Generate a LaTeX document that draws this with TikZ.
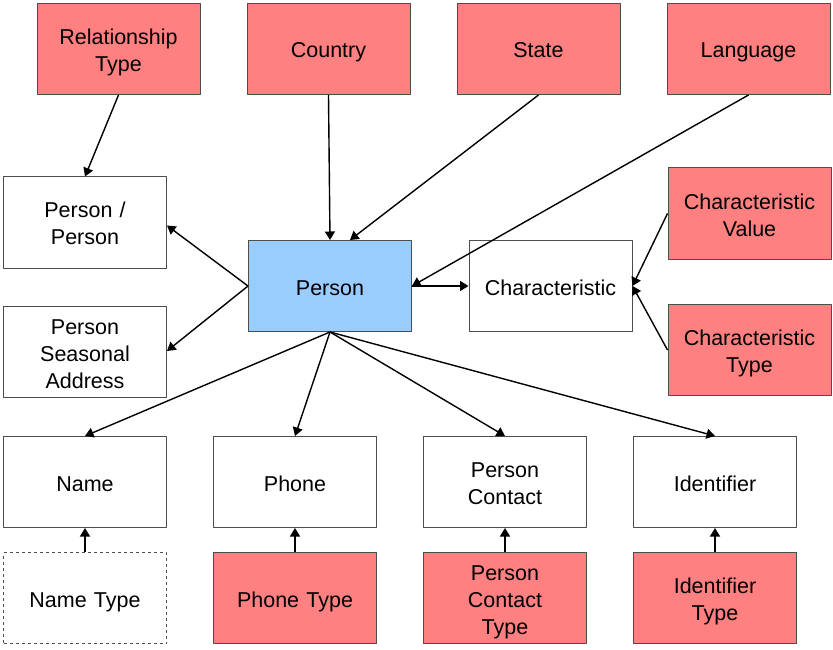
\documentclass[tikz,border=0pt]{standalone}
\usepackage{fontspec}
\setmainfont{Liberation Sans}
\usetikzlibrary{arrows.meta}
\definecolor{lookup}{HTML}{FF8080}
\definecolor{core}{HTML}{99CCFF}
\definecolor{edge}{HTML}{4D4D4D}
\tikzset{
  entity/.style={draw=edge, line width=1pt, minimum width=163pt, minimum height=91pt,
    inner sep=0pt, text width=163pt, align=center, font=\fontsize{21.5}{27}\selectfont,
    execute at begin node={\rule{0pt}{22.5pt}},
    execute at end node={\rule[-4.5pt]{0pt}{4.5pt}}},
  lookupbox/.style={entity, fill=lookup},
  corebox/.style={entity, fill=core},
  optbox/.style={entity, dashed},
  link/.style={-{Triangle[length=8.5pt,width=10pt]}, line width=1.4pt}
}
\begin{document}
\begin{tikzpicture}[x=1pt,y=-1pt,line join=round]
		\useasboundingbox (0,0) rectangle (833,650);
		% lookup tables on top
		\node[lookupbox] (reltype) at (118.5,49) {Relationship\\Type};
		\node[lookupbox] (country) at (328.5,49) {Country};
		\node[lookupbox] (state) at (538.5,49) {State};
		\node[lookupbox] (lang) at (748.5,49) {Language};
		% middle
		\node[entity] (perper) at (85,222.5) {Person /\\Person};
		\node[entity] (season) at (85,352) {Person\\Seasonal\\Address};
		\node[corebox] (person) at (330,286) {Person};
		\node[entity] (charac) at (550.5,286) {Characteristic};
		\node[lookupbox] (charval) at (749.5,213.5) {Characteristic\\Value};
		\node[lookupbox] (chartype) at (749.5,350) {Characteristic\\Type};
		% child tables
		\node[entity] (name) at (85,482) {Name};
		\node[entity] (phone) at (295,482) {Phone};
		\node[entity] (contact) at (505,482) {Person\\Contact};
		\node[entity] (ident) at (715,482) {Identifier};
		\node[optbox] (nametype) at (85,598) {Name Type};
		\node[lookupbox] (phonetype) at (295,598) {Phone Type};
		\node[lookupbox] (contacttype) at (505,598) {Person\\Contact\\Type};
		\node[lookupbox] (identtype) at (715,598) {Identifier\\Type};
		% connectors
		\draw[link] (reltype.south)--(perper.north);
		\draw[link] (country.south)--(person.north);
		\draw[link] (state.south)--([xshift=20pt]person.north);
		\draw[link] (lang.south)--(person.east);
		\draw[link] (person.west)--([yshift=-3pt]perper.east);
		\draw[link] (person.west)--([yshift=1pt]season.east);
		\draw[link] (person.east)--(charac.west);
		\draw[link] (charval.west)--(charac.east);
		\draw[link] (chartype.west)--(charac.east);
		\foreach \t in {name,phone,contact,ident}
		\draw[link] (person.south)--(\t.north);
		\draw[link] (nametype.north)--(name.south);
		\draw[link] (phonetype.north)--(phone.south);
		\draw[link] (contacttype.north)--(contact.south);
		\draw[link] (identtype.north)--(ident.south);
		\end{tikzpicture}
\end{document}
